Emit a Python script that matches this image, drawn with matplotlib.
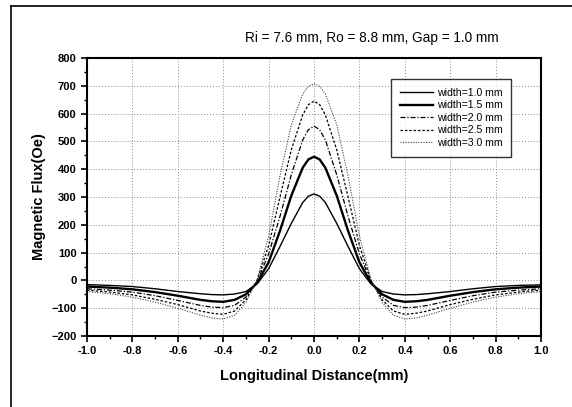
import matplotlib
matplotlib.use('Agg')
import matplotlib.pyplot as plt
from matplotlib.lines import Line2D
from matplotlib.ticker import MultipleLocator

plt.rcParams['font.family'] = ['Liberation Sans', 'DejaVu Sans']

# longitudinal distance (mm)
x = [-1.0, -0.9, -0.8, -0.7, -0.6, -0.5, -0.45, -0.4, -0.35, -0.3, -0.25, -0.2,
     -0.15, -0.1, -0.05, -0.025, 0.0, 0.025, 0.05, 0.1, 0.15, 0.2, 0.25, 0.3,
     0.35, 0.4, 0.45, 0.5, 0.6, 0.7, 0.8, 0.9, 1.0]

# magnetic flux (Oe) for each magnet width
w10 = [-15, -18, -22, -30, -40, -48, -51, -52, -49, -40, -12, 42,
       122, 205, 280, 303, 311, 303, 280, 205, 122, 42, -12, -40,
       -49, -52, -51, -48, -40, -30, -22, -18, -16]
w15 = [-22, -26, -32, -42, -55, -70, -75, -77, -70, -50, -8, 65,
       178, 305, 405, 435, 445, 435, 405, 305, 178, 65, -8, -50,
       -70, -77, -75, -70, -55, -42, -32, -26, -22]
w20 = [-30, -35, -42, -55, -72, -90, -96, -98, -90, -60, -3, 95,
       230, 380, 505, 542, 555, 542, 505, 380, 230, 95, -3, -60,
       -90, -98, -96, -90, -72, -55, -42, -35, -30]
w25 = [-35, -42, -52, -68, -87, -110, -118, -122, -110, -70, 2, 125,
       300, 470, 595, 632, 645, 632, 595, 470, 300, 125, 2, -70,
       -110, -122, -118, -110, -87, -68, -52, -42, -35]
w30 = [-40, -48, -60, -78, -100, -125, -135, -139, -125, -80, 5, 160,
       375, 560, 670, 698, 708, 698, 670, 560, 375, 160, 5, -80,
       -125, -139, -135, -125, -100, -78, -60, -48, -40]

labels = ['width=1.0 mm', 'width=1.5 mm', 'width=2.0 mm', 'width=2.5 mm', 'width=3.0 mm']

fig = plt.figure(figsize=(5.72, 4.07), dpi=100)
ax = fig.add_axes([0.152, 0.1744, 0.794, 0.6831])

ax.plot(x, w10, color='black', lw=1.0, label=labels[0])
ax.plot(x, w15, color='black', lw=1.7, label=labels[1])
ax.plot(x, w20, color='black', lw=0.9, dashes=(4, 1.5, 1, 1.5), label=labels[2])
ax.plot(x, w25, color='black', lw=0.9, dashes=(2, 1.5), label=labels[3])
ax.plot(x, w30, color='#444444', lw=0.8, dashes=(1, 1.3), label=labels[4])

ax.set_xlim(-1.0, 1.0)
ax.set_ylim(-200, 800)
ax.xaxis.set_major_locator(MultipleLocator(0.2))
ax.xaxis.set_minor_locator(MultipleLocator(0.1))
ax.yaxis.set_major_locator(MultipleLocator(100))
ax.yaxis.set_minor_locator(MultipleLocator(50))
ax.tick_params(which='major', direction='out', length=4, width=1.2, labelsize=8)
ax.tick_params(which='minor', direction='out', length=2.5, width=1.0)
ax.set_xticks(ax.get_xticks())
ax.set_xticklabels(['%.1f' % v for v in ax.get_xticks()], fontweight='bold')
for lab in ax.get_yticklabels():
    lab.set_fontweight('bold')
ax.set_xlim(-1.0, 1.0)
for s in ax.spines.values():
    s.set_linewidth(1.5)
ax.grid(True, which='major', color='#888888', linestyle=(0, (1, 2)), lw=0.7)

ax.set_xlabel('Longitudinal Distance(mm)', fontsize=10.5, fontweight='bold', labelpad=9)
ax.set_ylabel('Magnetic Flux(Oe)', fontsize=10.5, fontweight='bold', labelpad=4)
fig.text(0.65, 0.907, 'Ri = 7.6 mm, Ro = 8.8 mm, Gap = 1.0 mm', fontsize=9.8,
         ha='center', va='center')

leg = ax.legend(loc='upper right', bbox_to_anchor=(0.945, 0.943), fontsize=7.6,
                frameon=True, fancybox=False, edgecolor='black', handlelength=3.2,
                handletextpad=0.3, labelspacing=0.25, borderpad=0.8)
leg.get_frame().set_linewidth(1.0)

# outer frame of the scanned figure
fig.add_artist(Line2D([0.019, 0.019], [0.0, 0.985], color='black', lw=1.2))
fig.add_artist(Line2D([0.019, 1.0], [0.985, 0.985], color='black', lw=1.2))

fig.savefig('out.png', dpi=100)
